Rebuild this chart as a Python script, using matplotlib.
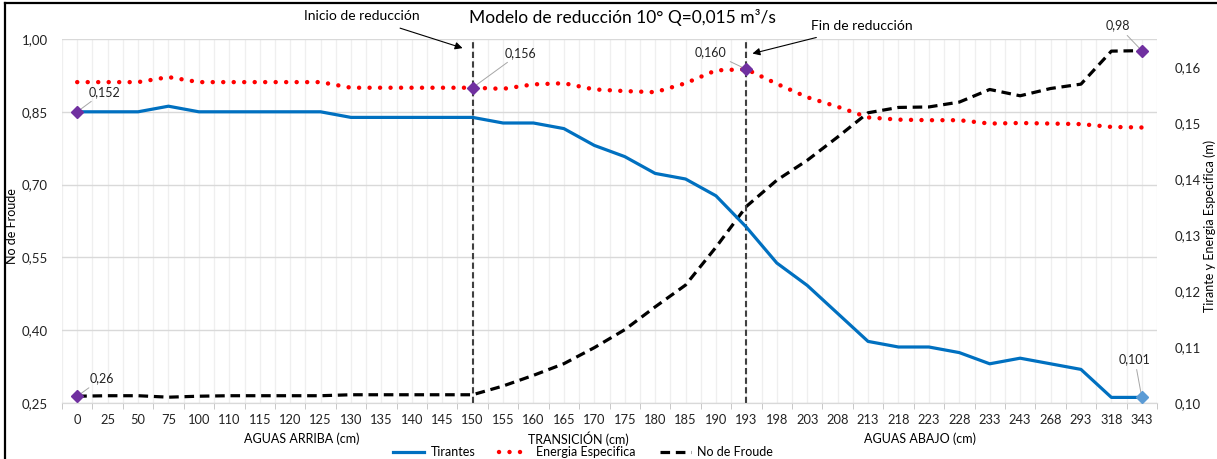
import numpy as np
import matplotlib
matplotlib.use("Agg")
import matplotlib.pyplot as plt
from matplotlib.ticker import FuncFormatter, FixedLocator
from matplotlib.lines import Line2D
import matplotlib.transforms as mtransforms

plt.rcParams['font.family'] = ['Lato', 'DejaVu Sans']

############### data ################
cats = [0, 25, 50, 75, 100, 110, 115, 120, 125, 130, 135, 140, 145, 150,
        155, 160, 165, 170, 175, 180, 185, 190, 193,
        198, 203, 208, 213, 218, 223, 228, 233, 243, 268, 293, 318, 343]

tirantes = [0.152, 0.152, 0.152, 0.153, 0.152, 0.152, 0.152, 0.152, 0.152,
            0.151, 0.151, 0.151, 0.151, 0.151, 0.150, 0.150, 0.149, 0.146,
            0.144, 0.141, 0.140, 0.137, 0.1314, 0.125, 0.121, 0.116, 0.111,
            0.110, 0.110, 0.109, 0.107, 0.108, 0.107, 0.106, 0.101, 0.101]

energia = [0.1573, 0.1573, 0.1573, 0.1582, 0.1573, 0.1573, 0.1573, 0.1573,
           0.1573, 0.1563, 0.1563, 0.1563, 0.1563, 0.1563, 0.1561, 0.1569,
           0.1571, 0.1560, 0.1557, 0.1555, 0.1571, 0.1594, 0.1596, 0.1570,
           0.1546, 0.1529, 0.1510, 0.1506, 0.1505, 0.1505, 0.1499, 0.1500,
           0.1499, 0.1498, 0.1493, 0.1492]

froude = [0.264, 0.265, 0.265, 0.262, 0.264, 0.265, 0.265, 0.265, 0.265,
          0.267, 0.267, 0.267, 0.267, 0.267, 0.285, 0.307, 0.331, 0.364,
          0.401, 0.448, 0.493, 0.571, 0.655, 0.709, 0.750, 0.798, 0.848,
          0.859, 0.860, 0.870, 0.896, 0.883, 0.898, 0.907, 0.975, 0.976]

inicio = 150
fin = 193

def coma(v, pos=None, dec=2):
    return f"{v:.{dec}f}".replace('.', ',')

W, H = 1217, 459
fig = plt.figure(figsize=(W / 100, H / 100), dpi=100)
ax = fig.add_axes([62 / W, 1 - 403 / H, (1157 - 62) / W, (403 - 39) / H])
ax2 = ax.twinx()

x = np.arange(len(cats))

l_fr, = ax.plot(x, froude, color='black', lw=2.3, ls=(0, (3, 1.8)), zorder=3)
l_ti, = ax2.plot(x, tirantes, color='#0070C0', lw=2.3, zorder=3)
l_en, = ax2.plot(x, energia, color='#FF0000', lw=3.2, ls=(0, (0.01, 2.35)),
                 dash_capstyle='round', zorder=3)

# grid + axes
ax.set_xlim(-0.5, len(cats) - 0.5)
ax.set_ylim(0.25, 1.0)
ax.set_yticks([0.25, 0.40, 0.55, 0.70, 0.85, 1.00])
ax2.set_ylim(0.10, 0.165)
ax2.set_yticks(np.arange(0.10, 0.1601, 0.01))
ax.yaxis.set_major_formatter(FuncFormatter(coma))
ax2.yaxis.set_major_formatter(FuncFormatter(coma))

ax.set_xticks(x)
ax.set_xticklabels([str(c) for c in cats])
ax.xaxis.set_minor_locator(FixedLocator(np.arange(-0.5, len(cats), 1.0)))
ax.grid(axis='x', which='both', color='#EFEFEF', lw=0.9, zorder=0)
ax.grid(axis='y', which='major', color='#D9D9D9', lw=1.0, zorder=0)
ax.set_axisbelow(True)

ax.tick_params(axis='x', which='major', length=0, pad=8, labelsize=9.3, colors='#222222')
ax.tick_params(axis='x', which='minor', length=4, color='#BFBFBF')
ax.tick_params(axis='y', length=0, pad=10, labelsize=9.5, colors='#222222')
ax2.tick_params(axis='y', length=0, pad=13, labelsize=9.5, colors='#222222')
for a in (ax, ax2):
    for s in ('top', 'left', 'right'):
        a.spines[s].set_visible(False)
    a.spines['bottom'].set_color('#D9D9D9')

# vertical reduction lines
for c in (inicio, fin):
    ax.axvline(cats.index(c), color='#404040', lw=1.5, ls=(0, (3, 1.6)), zorder=4)

# highlighted points with data labels
mk = dict(marker='D', ms=6.5, ls='none', zorder=5)
ax2.plot(0, tirantes[0], color='#7030A0', **mk)
ax2.plot(x[-1], tirantes[-1], color='#5B9BD5', **mk)
ax.plot(0, froude[0], color='#7030A0', **mk)
ax.plot(x[-1], froude[-1], color='#7030A0', **mk)
i_in, i_fin = cats.index(inicio), cats.index(fin)
ax2.plot(i_in, energia[i_in], color='#7030A0', **mk)
ax2.plot(i_fin, energia[i_fin], color='#7030A0', **mk)

lead = dict(arrowstyle='-', color='#A6A6A6', lw=0.7, shrinkA=1, shrinkB=3)
lab = dict(textcoords='offset pixels', fontsize=9, ha='center', va='center',
           color='#222222', arrowprops=lead)
ax2.annotate(coma(tirantes[0], dec=3), (0, tirantes[0]), xytext=(27, 20), **lab)
ax.annotate(coma(froude[0]), (0, froude[0]), xytext=(25, 18), **lab)
ax2.annotate(coma(energia[i_in], dec=3), (i_in, energia[i_in]), xytext=(48, 35), **lab)
ax2.annotate(coma(energia[i_fin], dec=3), (i_fin, energia[i_fin]), xytext=(-36, 17), **lab)
ax.annotate(coma(froude[-1]), (x[-1], froude[-1]), xytext=(-24, 25), **lab)
ax2.annotate(coma(tirantes[-1], dec=3), (x[-1], tirantes[-1]), xytext=(-7, 38), **lab)

# reduction arrows
trans = mtransforms.blended_transform_factory(ax.transData, ax.transAxes)
arr = dict(arrowstyle='-|>', color='black', lw=0.8, mutation_scale=11, shrinkA=8, shrinkB=0)
ax.annotate('Inicio de reducción', xy=(i_in - 0.33, 0.975), xycoords=trans,
            xytext=(362, H - 16), textcoords='figure pixels', fontsize=10,
            ha='center', va='center', arrowprops=arr)
ax.annotate('Fin de reducción', xy=(i_fin + 0.2, 0.96), xycoords=trans,
            xytext=(862, H - 26), textcoords='figure pixels', fontsize=10,
            ha='center', va='center', arrowprops=arr)

fig.text(622 / W, 1 - 17 / H, 'Modelo de reducción 10° Q=0,015 m³/s',
         fontsize=12.5, ha='center', va='center')

# axis titles
fig.text(12 / W, 1 - 226 / H, 'No de Froude', rotation=90, fontsize=9,
         ha='center', va='center')
fig.text(1210 / W, 1 - 226 / H, 'Tirante y Energia Especifica (m)', rotation=90,
         fontsize=9, ha='center', va='center')
fig.text(302 / W, 1 - 439 / H, 'AGUAS ARRIBA (cm)', fontsize=9, ha='center', va='center')
fig.text(578 / W, 1 - 439 / H, 'TRANSICIÓN (cm)', fontsize=9, ha='center', va='center')
fig.text(920 / W, 1 - 439 / H, 'AGUAS ABAJO (cm)', fontsize=9, ha='center', va='center')

fig.legend([l_ti, l_en, l_fr], ['Tirantes', 'Energia Especifica', 'No de Froude'],
           loc='center', bbox_to_anchor=(583 / W, 1 - 452.5 / H), ncol=3,
           frameon=False, fontsize=9, handlelength=2.5, handletextpad=0.5,
           columnspacing=1.9, borderpad=0)

# frame of the picture (left and top)
fig.add_artist(Line2D([0.004, 0.004], [0, 0.993], transform=fig.transFigure, color='black', lw=1.6))
fig.add_artist(Line2D([0.004, 1], [0.993, 0.993], transform=fig.transFigure, color='black', lw=1.6))

fig.savefig('out.png', dpi=100)
